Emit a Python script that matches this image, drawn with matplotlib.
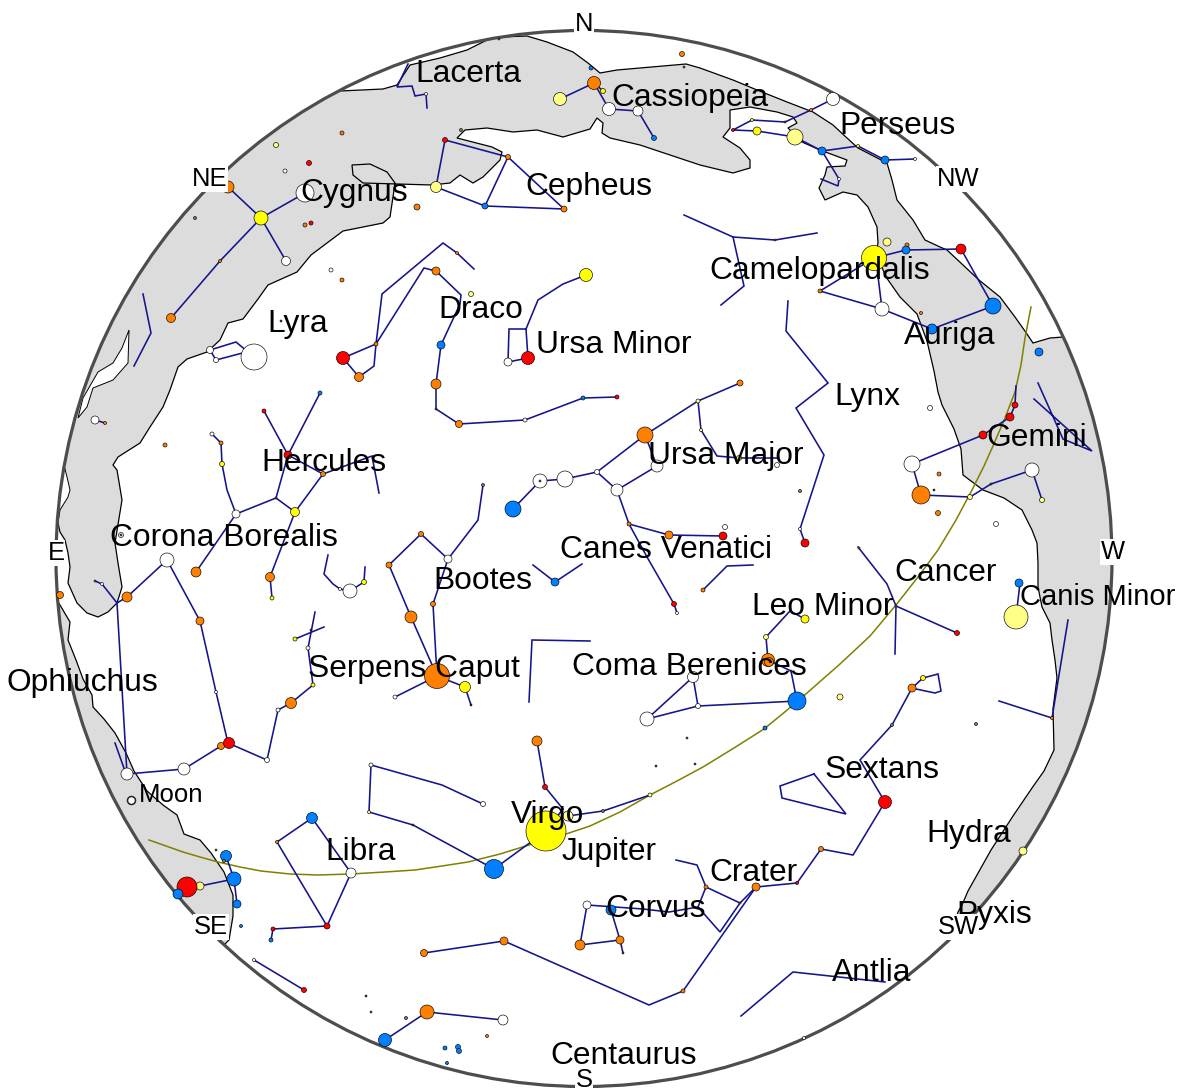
import matplotlib
matplotlib.use("Agg")
import matplotlib.pyplot as plt
from matplotlib.patches import Circle, Polygon

plt.rcParams['font.family'] = ['Liberation Sans', 'DejaVu Sans']

# Horizon circle, in picture pixels
horizon_center = (584, 558.5)
horizon_radius = 528

# Milky way outlines (run past the horizon, clipped later)
milky_way_main = [
    (58, 523), (60, 532), (65, 540), (68, 553), (70, 567), (68, 583), (77, 603), (87, 613), (98, 617),
    (108, 612), (117, 603), (122, 587), (118, 563), (115, 543), (122, 500), (117, 470), (113, 465),
    (118, 457), (140, 443), (150, 427), (163, 407), (170, 390), (178, 367), (187, 359), (207, 352),
    (220, 340), (228, 323), (243, 319), (258, 299), (268, 285), (297, 272), (311, 255), (343, 231),
    (383, 223), (390, 217), (393, 197), (395, 183), (387, 172), (370, 164), (352, 165), (353, 175),
    (363, 183), (432, 185), (450, 183), (460, 175), (473, 183), (483, 177), (500, 160), (502, 152),
    (492, 147), (457, 138), (465, 130), (487, 128), (513, 132), (537, 130), (563, 137), (590, 129),
    (597, 118), (603, 123), (602, 133), (610, 138), (640, 145), (661, 152), (700, 165), (733, 173),
    (750, 168), (750, 160), (740, 148), (723, 137), (730, 128), (730, 110), (750, 107), (777, 112),
    (793, 117), (797, 123), (788, 128), (802, 142), (820, 150), (847, 160), (845, 166), (827, 167),
    (825, 175), (819, 188), (825, 200), (843, 192), (857, 195), (868, 207), (877, 227), (878, 243),
    (876, 253), (886, 277), (900, 297), (917, 314), (927, 341), (934, 371), (938, 392), (942, 405),
    (954, 429), (961, 449), (963, 475), (983, 490), (1004, 498), (1022, 510), (1032, 530), (1037, 543),
    (1038, 563), (1038, 587), (1042, 607), (1050, 623), (1052, 640), (1055, 660), (1057, 678), (1053, 709),
    (1054, 750), (1044, 771), (1032, 788), (1013, 816), (991, 850), (968, 891), (962, 905), (958, 912),
    (951, 938), (1000, 960), (1182, 800), (1182, 337), (1063, 337),
    (1050, 338), (1033, 343), (1027, 334), (1015, 317), (1000, 297), (979, 280), (947, 250), (940, 247),
    (925, 240), (913, 220), (897, 200), (892, 180), (887, 163), (858, 148), (847, 138), (833, 125),
    (813, 112), (787, 102), (757, 90), (733, 80), (700, 68), (686, 64), (640, 68), (617, 70), (600, 73),
    (588, 63), (573, 52), (547, 42), (527, 36), (500, 37), (487, 40), (467, 50), (440, 58), (410, 65),
    (397, 85), (383, 89), (340, 91), (300, 60), (0, 0), (0, 530),
]
milky_way_south = [
    (57, 600), (70, 622), (68, 640), (76, 660), (83, 679), (92, 695), (93, 707), (104, 719),
    (115, 733), (126, 753), (134, 771), (147, 791), (163, 805), (177, 815), (184, 834), (200, 840),
    (211, 853), (224, 872), (233, 895), (233, 916), (229, 940), (224, 945),
    (200, 960), (0, 1092), (0, 600),
]
# white slivers between the band and the horizon
gap_long = [(78, 418), (83, 398), (98, 372), (113, 363), (122, 348), (129, 330), (128, 363), (113, 380),
            (93, 388), (87, 407)]
gap_short = [(64, 465), (67, 477), (70, 490), (68, 497), (60, 510), (58, 523), (50, 523), (55, 480)]

ecliptic = [
    (149, 840), (166, 846), (183, 852), (200, 857), (218, 862), (240, 867), (261, 871), (290, 874),
    (318, 875), (351, 874), (385, 872), (415, 870), (442, 866), (468, 862), (500, 854), (529, 845),
    (560, 836), (590, 826), (620, 812), (650, 795), (677, 781), (703, 767), (734, 748), (764, 729),
    (786, 711), (807, 693), (840, 664), (870, 636), (896, 605), (918, 577), (938, 550), (956, 520),
    (972, 490), (984, 466), (993, 446), (1005, 418), (1015, 392), (1021, 365), (1025, 338), (1031, 307),
]

constellation_lines = [
    [(408, 64), (397, 87), (412, 86), (415, 96), (426, 94), (427, 108)],
    [(228, 187), (261, 218), (305, 193)],
    [(261, 218), (286, 261)],
    [(261, 218), (220, 261), (171, 318)],
    [(436, 187), (445, 140), (508, 157), (485, 206), (436, 187)],
    [(485, 206), (564, 209), (508, 157)],
    [(143, 294), (151, 333), (134, 366)],
    [(210, 350), (236, 342), (254, 357)],
    [(210, 350), (216, 360), (254, 350)],
    [(474, 269), (457, 253), (443, 243), (382, 294), (376, 344), (374, 366), (359, 377), (343, 358),
     (376, 344), (424, 268), (436, 271), (461, 295), (460, 304), (441, 345), (436, 384), (436, 409),
     (459, 424), (525, 420), (583, 398), (617, 397)],
    [(586, 275), (563, 284), (538, 300), (526, 329), (528, 358), (508, 362), (509, 329), (526, 329)],
    [(95, 420), (105, 423)],
    [(264, 411), (288, 455), (320, 393)],
    [(288, 455), (276, 498), (236, 514), (227, 490), (222, 464), (221, 443), (212, 434)],
    [(276, 498), (295, 512), (323, 474), (288, 455)],
    [(323, 474), (372, 456), (379, 493)],
    [(236, 514), (196, 572)],
    [(295, 512), (270, 577), (272, 598)],
    [(328, 555), (324, 574), (333, 584), (340, 589), (350, 591), (364, 582), (365, 567)],
    [(95, 581), (102, 584), (117, 603), (127, 597), (167, 560), (200, 621), (216, 692), (228, 743),
     (267, 760), (278, 710), (291, 703), (313, 685), (308, 648), (315, 612)],
    [(295, 639), (324, 627)],
    [(117, 603), (127, 774), (184, 769), (221, 746), (229, 743)],
    [(115, 743), (125, 771)],
    [(389, 565), (411, 617), (437, 676)],
    [(389, 565), (421, 534), (448, 559), (433, 604), (437, 676)],
    [(483, 485), (478, 520), (448, 559)],
    [(395, 697), (437, 676), (465, 687), (471, 705)],
    [(533, 565), (555, 582), (582, 564)],
    [(590, 641), (532, 640), (529, 702)],
    [(537, 741), (545, 787), (563, 809), (546, 831), (494, 869)],
    [(568, 816), (603, 811), (650, 795)],
    [(483, 804), (442, 785), (371, 765), (369, 812), (413, 825), (494, 869)],
    [(312, 818), (277, 842), (327, 926), (351, 873), (312, 818)],
    [(327, 926), (273, 929), (271, 940)],
    [(226, 856), (234, 879), (237, 904)],
    [(200, 886), (234, 879)],
    [(254, 960), (304, 990)],
    [(385, 1040), (427, 1012), (503, 1020)],
    [(424, 953), (504, 941), (649, 1005), (683, 991), (756, 887), (797, 883), (821, 849), (853, 855),
     (885, 802), (860, 760), (892, 725), (912, 688), (923, 678), (938, 674), (941, 691), (935, 693), (916, 689)],
    [(676, 860), (697, 865), (706, 887), (740, 903), (720, 932), (698, 907), (706, 887)],
    [(740, 903), (756, 887)],
    [(587, 905), (643, 909), (669, 912), (698, 907)],
    [(611, 910), (620, 940), (623, 953)],
    [(580, 945), (587, 905)],
    [(580, 945), (620, 940)],
    [(741, 1016), (793, 972), (885, 982)],
    [(814, 774), (780, 786), (782, 798), (846, 814), (814, 774)],
    [(788, 301), (786, 331), (828, 383), (796, 408), (824, 455), (800, 529), (805, 543)],
    [(858, 547), (887, 584), (896, 606), (895, 654)],
    [(896, 606), (957, 633)],
    [(703, 590), (727, 566), (753, 565)],
    [(805, 619), (790, 611), (766, 637), (768, 660), (791, 671), (797, 701), (698, 706), (647, 719), (693, 677), (698, 706)],
    [(1068, 620), (1052, 718), (999, 701)],
    [(1020, 583), (1016, 617)],
    [(560, 99), (594, 83), (609, 109), (638, 111), (654, 138)],
    [(594, 83), (603, 91)],
    [(833, 99), (811, 110), (785, 122), (752, 120), (733, 130), (757, 131), (795, 137), (822, 151), (858, 146), (885, 160), (915, 159)],
    [(822, 151), (839, 179), (838, 186), (821, 179)],
    [(684, 215), (733, 237), (775, 240), (817, 233)],
    [(733, 237), (744, 286), (721, 305)],
    [(874, 258), (906, 250), (961, 249), (993, 306), (932, 329), (882, 309), (820, 291), (874, 258)],
    [(882, 309), (877, 268), (874, 258)],
    [(1016, 386), (1015, 405), (1010, 417), (983, 435), (912, 464), (921, 495), (970, 497), (991, 484), (1032, 470), (1042, 500)],
    [(1038, 383), (1063, 439), (1092, 451), (1034, 399)],
    [(740, 383), (698, 401), (645, 435), (597, 472), (565, 479), (540, 481), (513, 509)],
    [(597, 472), (617, 490), (657, 466), (645, 435)],
    [(698, 401), (701, 430), (717, 456), (739, 458), (777, 458)],
    [(617, 490), (629, 524), (669, 535), (723, 536)],
    [(629, 524), (647, 557), (674, 604), (677, 613)],
]

# Stars by colour: x, y, diameter in pixels
white_stars = [
    (305, 193, 18), (286, 261, 9), (285, 171, 4), (331, 270, 4), (426, 94, 3), (254, 357, 26), (210, 350, 7),
    (216, 360, 5), (525, 420, 4), (508, 362, 8), (95, 420, 8), (236, 514, 8), (212, 434, 4), (540, 481, 14),
    (565, 479, 16), (597, 472, 5), (121, 535, 5), (102, 584, 3), (167, 560, 14), (216, 692, 3), (184, 769, 12),
    (127, 774, 12), (267, 760, 5), (278, 710, 4), (308, 648, 4), (350, 591, 14), (340, 589, 3), (448, 559, 8),
    (395, 697, 4), (371, 765, 4), (483, 804, 5), (351, 873, 10), (254, 960, 3), (503, 1020, 10), (587, 905, 8),
    (677, 613, 3), (698, 706, 5), (693, 677, 11), (647, 719, 14), (804, 1038, 3), (609, 109, 13), (638, 111, 10),
    (833, 99, 13), (915, 159, 3), (839, 179, 3), (882, 309, 14), (930, 408, 5), (912, 464, 16), (1032, 470, 14),
    (996, 524, 5), (617, 490, 12), (657, 466, 12), (777, 465, 5), (725, 527, 5), (800, 529, 3),
]
yellow_stars = [
    (261, 218, 14), (295, 512, 9), (222, 464, 5), (272, 598, 4), (313, 685, 4), (295, 639, 4), (364, 582, 5),
    (465, 687, 11), (586, 275, 13), (546, 831, 40), (805, 619, 8), (923, 678, 5), (603, 91, 5), (752, 120, 3),
    (757, 131, 8), (858, 146, 3), (874, 258, 25), (739, 458, 5),
]
pale_stars = [
    (276, 145, 5), (436, 187, 11), (471, 294, 5), (568, 816, 10), (369, 812, 3), (200, 886, 8), (766, 637, 5),
    (840, 697, 6), (650, 795, 4), (1016, 617, 24), (1023, 851, 8), (560, 99, 13), (795, 137, 16), (887, 242, 8),
    (970, 497, 5), (1042, 500, 5), (698, 401, 4), (701, 430, 3),
]
orange_stars = [
    (228, 187, 12), (342, 133, 4), (305, 225, 4), (417, 207, 6), (499, 39, 2), (342, 280, 4), (457, 253, 3),
    (220, 261, 3), (171, 318, 9), (508, 157, 5), (564, 209, 6), (359, 377, 9), (376, 344, 4), (436, 271, 8),
    (436, 384, 10), (459, 424, 7), (105, 423, 3), (165, 445, 4), (323, 474, 5), (221, 443, 4), (421, 534, 5),
    (60, 595, 7), (95, 581, 2), (127, 597, 10), (196, 572, 10), (270, 577, 9), (200, 621, 8), (221, 746, 7),
    (291, 703, 11), (389, 565, 6), (411, 617, 12), (433, 604, 5), (437, 676, 25), (537, 741, 10), (277, 842, 3),
    (427, 1012, 14), (487, 1036, 3), (424, 953, 7), (504, 941, 8), (580, 945, 10), (703, 590, 4), (768, 660, 13),
    (769, 662, 9), (912, 688, 8), (1052, 718, 3), (821, 849, 5), (756, 887, 8), (683, 991, 4), (706, 887, 4),
    (740, 903, 2), (620, 940, 8), (896, 606, 2), (682, 54, 5), (594, 83, 13), (811, 110, 3), (775, 240, 2),
    (907, 245, 4), (820, 291, 4), (921, 313, 3), (921, 495, 18), (939, 474, 4), (938, 513, 5), (645, 435, 16),
    (629, 524, 4), (669, 535, 8), (859, 548, 2), (740, 383, 6),
]
red_stars = [
    (309, 163, 5), (311, 223, 4), (445, 140, 5), (281, 321, 2), (343, 358, 13), (617, 397, 4), (528, 358, 13),
    (264, 411, 4), (288, 455, 8), (229, 743, 11), (311, 630, 2), (471, 705, 2), (545, 787, 5), (327, 926, 6),
    (273, 929, 4), (187, 887, 20), (304, 990, 5), (366, 996, 2), (674, 604, 5), (656, 766, 2),
    (957, 633, 5), (885, 802, 13), (797, 883, 3), (733, 130, 3), (961, 249, 10), (1015, 405, 6), (1010, 417, 8),
    (983, 435, 8), (934, 490, 2), (723, 536, 8), (805, 543, 8),
]
blue_stars = [
    (485, 206, 6), (441, 345, 8), (583, 398, 4), (320, 393, 4), (513, 509, 16), (555, 582, 8), (494, 869, 19),
    (312, 818, 11), (271, 940, 4), (241, 926, 3), (226, 856, 11), (234, 879, 14), (237, 904, 8), (178, 894, 10),
    (385, 1040, 13), (445, 1048, 4), (458, 1047, 5), (459, 1051, 5), (447, 1063, 3), (797, 701, 18), (765, 728, 4),
    (695, 764, 2), (1019, 583, 8), (611, 910, 10), (591, 68, 4), (684, 67, 2), (654, 138, 5), (822, 151, 8),
    (885, 160, 8), (906, 250, 8), (993, 306, 16), (932, 329, 10), (1039, 352, 8),
]
grey_stars = [
    (195, 218, 3), (461, 130, 3), (436, 409, 2), (276, 498, 2), (483, 485, 3), (413, 825, 2), (224, 861, 3),
    (216, 850, 2), (371, 1012, 2), (406, 1018, 3), (791, 671, 2), (687, 738, 2), (603, 811, 3), (892, 725, 3),
    (976, 724, 3), (623, 953, 2), (785, 122, 2), (991, 484, 2), (800, 491, 3), (540, 481, 2), (121, 535, 2),
]
star_groups = [
    (white_stars, 'white'), (yellow_stars, '#ffff00'), (pale_stars, '#ffff88'), (orange_stars, '#ff8000'),
    (red_stars, '#ff0000'), (blue_stars, '#0080ff'), (grey_stars, '#808060'),
]
moon = (131, 800, 8)

constellation_names = ['Lacerta', 'Cassiopeia', 'Perseus', 'Cygnus', 'Cepheus', 'Camelopardalis', 'Draco', 'Lyra',
                       'Ursa Minor', 'Auriga', 'Lynx', 'Gemini', 'Ursa Major', 'Hercules', 'Corona Borealis',
                       'Canes Venatici', 'Cancer', 'Bootes', 'Leo Minor', 'Ophiuchus',
                       'Serpens Caput', 'Coma Berenices', 'Sextans', 'Virgo', 'Libra', 'Jupiter', 'Hydra',
                       'Crater', 'Corvus', 'Pyxis', 'Antlia', 'Centaurus']
constellation_x = [415.5, 611.5, 839.5, 300.5, 525.5, 709.5, 438.5, 267.5, 535.5, 903.5, 834.5, 986.5, 647.5, 261.5,
                   109.5, 559.5, 894.5, 433.5, 751.5, 6.5, 308.5, 572.5, 824.5, 510.5, 325.5, 561.5, 926.5, 709.5,
                   605.5, 956.5, 831.5, 550.5]
constellation_y = [82, 106, 134, 201, 195, 279, 318, 332, 353, 344, 405, 446, 464, 471, 546, 558, 581, 589,
                   615, 691, 677, 675, 778, 823, 860, 860, 842, 881, 917, 923, 981, 1064]

directions = ['N', 'NE', 'NW', 'E', 'W', 'SE', 'SW', 'S']
direction_x = [584, 210, 958, 56, 1113, 211, 958, 584]
direction_y = [24, 179, 179, 553, 552, 927, 927, 1080]

fig = plt.figure(figsize=(11.82, 10.92), dpi=100)
ax = fig.add_axes([0, 0, 1, 1])
ax.set_xlim(0, 1182)
ax.set_ylim(1092, 0)
ax.axis('off')

sky_clip = Circle(horizon_center, horizon_radius, transform=ax.transData)

# Milky way
for outline in [milky_way_main, milky_way_south]:
    band = Polygon(outline, closed=True, fc='#dcdcdc', ec='black', lw=0.9, zorder=1)
    ax.add_patch(band)
    band.set_clip_path(sky_clip)
for outline in [gap_long, gap_short]:
    gap = Polygon(outline, closed=True, fc='white', ec='black', lw=0.7, zorder=1.1)
    ax.add_patch(gap)
    gap.set_clip_path(sky_clip)

ax.add_patch(Circle(horizon_center, horizon_radius, fc='none', ec='#4d4d4d', lw=2.3, zorder=2))

ax.plot([p[0] for p in ecliptic], [p[1] for p in ecliptic], color='#808000', lw=1.1, zorder=2.5)

for line in constellation_lines:
    ax.plot([p[0] for p in line], [p[1] for p in line], color='#14148c', lw=1.15, zorder=3,
            solid_joinstyle='miter')

# stars, diameters in px turned into points^2
for stars, colour in star_groups:
    sizes = [(s[2] * 0.72) ** 2 for s in stars]
    ax.scatter([s[0] for s in stars], [s[1] for s in stars], s=sizes, c=colour,
               edgecolors='black', linewidths=0.45, zorder=4)
ax.scatter([moon[0]], [moon[1]], s=(moon[2] * 0.72) ** 2, c='white', edgecolors='#222222', linewidths=1.1, zorder=4)

for name, x, y in zip(constellation_names, constellation_x, constellation_y):
    ax.text(x, y, name, fontsize=22.9, ha='left', va='baseline', color='black', zorder=5)
# squeezed against the picture edge in the original
ax.text(1020.5, 605, 'Canis Minor', fontsize=21, ha='left', va='baseline', color='black', zorder=5)
ax.text(139, 802, 'Moon', fontsize=18.5, ha='left', va='baseline', color='black', zorder=5)

for name, x, y in zip(directions, direction_x, direction_y):
    ax.text(x, y, name, fontsize=18.4, ha='center', va='center', color='black', zorder=6,
            bbox=dict(fc='white', ec='none', pad=0.3))

fig.savefig('out.png', dpi=100, facecolor='white')
